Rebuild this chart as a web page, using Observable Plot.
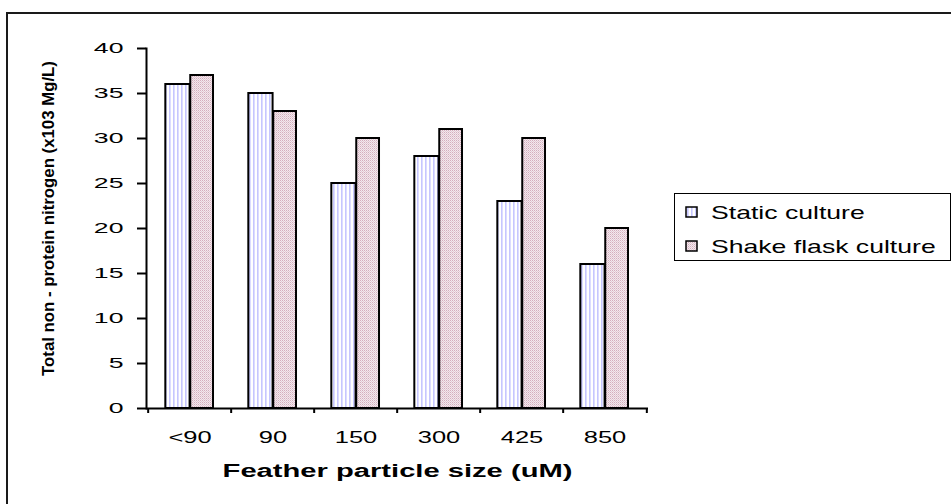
<!DOCTYPE html>
<html>
<head>
<meta charset="utf-8">
<script src="https://cdn.jsdelivr.net/npm/d3@7"></script>
<script src="https://cdn.jsdelivr.net/npm/@observablehq/plot@0.6"></script>
<style>
  html, body { margin: 0; padding: 0; background: #fff; }
  #figure { position: relative; width: 951px; height: 504px; overflow: hidden; background: #fff;
            font-family: "Liberation Sans", Arial, sans-serif; }
  #border { position: absolute; left: 6px; top: 12px; width: 1000px; height: 600px;
            border: 2px solid #1a1a1a; box-sizing: border-box; }
  #chart { position: absolute; left: 0; top: 0; }
  #legend { position: absolute; left: 674px; top: 193px; }
  #defs { position: absolute; width: 0; height: 0; }
</style>
</head>
<body>
<svg id="defs" width="0" height="0">
  <defs>
    <pattern id="fill-static" patternUnits="userSpaceOnUse" width="4" height="4">
      <rect width="4" height="4" fill="#ffffff"></rect>
      <rect x="1" width="1.6" height="4" fill="#c6c6ff"></rect>
    </pattern>
    <pattern id="fill-shake" patternUnits="userSpaceOnUse" width="2" height="2">
      <rect width="2" height="2" fill="#f3e8ed"></rect>
      <rect x="0" y="0" width="1" height="1" fill="#d4aebd"></rect>
      <rect x="1" y="1" width="1" height="1" fill="#e3cbd5"></rect>
    </pattern>
  </defs>
</svg>
<div id="figure">
  <div id="border"></div>
  <div id="chart"></div>
  <div id="legend"></div>
</div>
<script>
// Feather particle size classes (uM)
const categories = ["<90", "90", "150", "300", "425", "850"];
// Total non-protein nitrogen (x103 Mg/L)
const staticCulture = [36, 35, 25, 28, 23, 16];
const shakeFlaskCulture = [37, 33, 30, 31, 30, 20];
const seriesNames = ["Static culture", "Shake flask culture"];
const yTicks = [0, 5, 10, 15, 20, 25, 30, 35, 40];
const xTitle = "Feather particle size (uM)";
const yTitle = "Total non - protein nitrogen (x103 Mg/L)";

const fills = {"Static culture": "url(#fill-static)", "Shake flask culture": "url(#fill-shake)"};

const staticRows = categories.map((c, i) => ({size: c, series: seriesNames[0], value: staticCulture[i]}));
const shakeRows = categories.map((c, i) => ({size: c, series: seriesNames[1], value: shakeFlaskCulture[i]}));

const width = 951, height = 504;
const marginLeft = 146, marginRight = 303, marginTop = 48, marginBottom = 96;
const band = (width - marginLeft - marginRight) / categories.length;

const chart = Plot.plot({
  width, height, marginLeft, marginRight, marginTop, marginBottom,
  style: {fontFamily: "'Liberation Sans', Arial, sans-serif", background: "transparent", color: "#000"},
  x: {domain: categories, padding: 0},
  y: {domain: [0, 40]},
  marks: [
    Plot.barY(staticRows, {x: "size", y: "value", fill: fills[seriesNames[0]], stroke: "#000", strokeWidth: 2,
      insetLeft: band * 0.207, insetRight: band * 0.495}),
    Plot.barY(shakeRows, {x: "size", y: "value", fill: fills[seriesNames[1]], stroke: "#000", strokeWidth: 2,
      insetLeft: band * 0.505, insetRight: band * 0.215}),
    Plot.frame({anchor: "left", stroke: "#000", strokeWidth: 2}),
    Plot.ruleY([0], {stroke: "#000", strokeWidth: 2}),
    Plot.axisY({ticks: yTicks, tickSize: 9, tickPadding: 14, strokeWidth: 2, fontSize: 15.5, label: null}),
    Plot.axisX({tickSize: 0, tickPadding: 22, fontSize: 17, label: null}),
    // category separators below the axis
    Plot.axisX({ticks: categories, tickSize: 5, text: null, label: null, strokeWidth: 2, dx: -band / 2}),
    Plot.axisX({ticks: categories.slice(-1), tickSize: 5, text: null, label: null, strokeWidth: 2, dx: band / 2}),
    Plot.text([xTitle], {frameAnchor: "bottom", dy: 63, fontSize: 18, fontWeight: "bold", lineAnchor: "middle"}),
    Plot.text([yTitle], {frameAnchor: "left", dx: -98, dy: -10, rotate: -90, fontSize: 16, fontWeight: "bold",
      textAnchor: "middle", lineAnchor: "middle"})
  ]
});

// widen glyphs horizontally around each text's anchor
const widen = new Map([
  ...yTicks.map((t) => [String(t), 1.72]),
  ...categories.map((c) => [c, 1.5]),
  [xTitle, 1.62],
  [yTitle, 1.05]
]);
chart.querySelectorAll("text").forEach((t) => {
  const sx = widen.get(t.textContent.trim());
  if (sx === undefined) return;
  const tr = t.getAttribute("transform") || "";
  const x = parseFloat(t.getAttribute("x"));
  let shift = "";
  if (Number.isFinite(x) && x !== 0 && !/em$/.test(t.getAttribute("x"))) {
    t.removeAttribute("x");
    shift = ` translate(${x},0)`;
  }
  t.setAttribute("transform", `${tr}${shift} scale(${sx},1)`);
});

document.getElementById("chart").appendChild(chart);

// legend box
const lw = 277, lh = 68;
const legend = d3.select("#legend").append("svg").attr("width", lw).attr("height", lh);
legend.append("rect").attr("x", 0.5).attr("y", 0.5).attr("width", lw - 1).attr("height", lh - 1)
  .attr("fill", "#fff").attr("stroke", "#000").attr("stroke-width", 1);
const item = legend.selectAll("g.item").data(seriesNames).join("g").attr("class", "item")
  .attr("transform", (d, i) => `translate(0,${19 + i * 34})`);
item.append("rect").attr("x", 12).attr("y", -5).attr("width", 11).attr("height", 10)
  .attr("fill", (d) => fills[d]).attr("stroke", "#000").attr("stroke-width", 1.5);
item.append("text").attr("transform", "translate(37,6.5) scale(1.4,1)")
  .attr("font-size", 19).attr("font-family", "'Liberation Sans', Arial, sans-serif").attr("fill", "#000")
  .text((d) => d);
</script>
</body>
</html>
